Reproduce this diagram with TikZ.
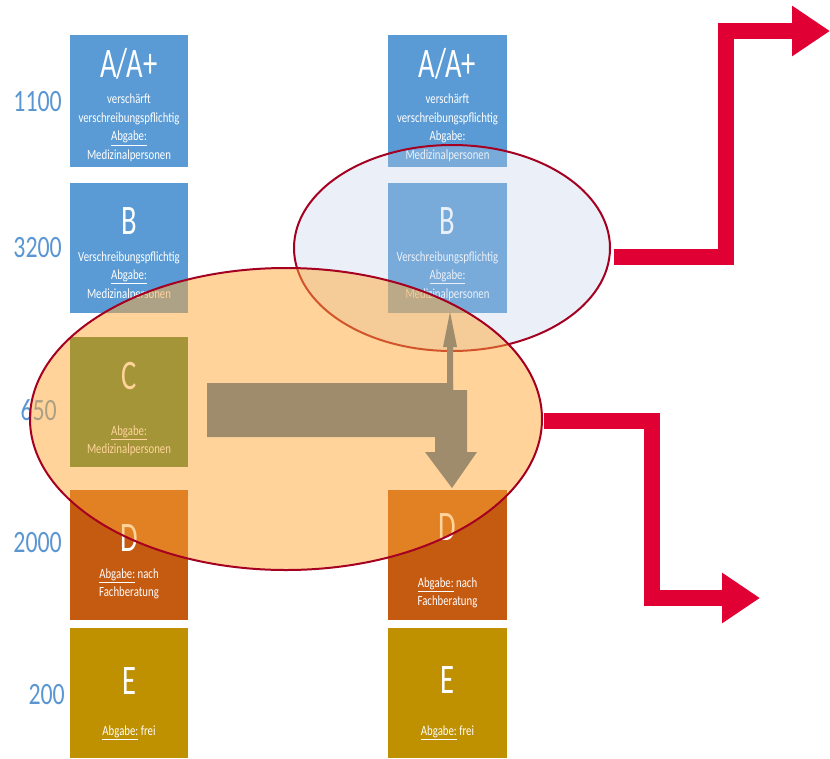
\documentclass[tikz,border=0pt]{standalone}
\usepackage{graphicx}
\usepackage{fontspec}
\setmainfont{Carlito}
\usetikzlibrary{shapes.geometric,arrows.meta,calc}
\definecolor{boxblue}{RGB}{91,155,213}
\definecolor{boxgreen}{RGB}{75,130,60}
\definecolor{boxorange}{RGB}{197,90,17}
\definecolor{boxgold}{RGB}{191,144,0}
\definecolor{numblue}{RGB}{90,150,210}
\definecolor{ellred}{RGB}{165,0,33}
\definecolor{ellblue}{RGB}{190,208,232}
\definecolor{ellorange}{RGB}{255,169,55}
\definecolor{arrowgray}{RGB}{158,140,108}
\definecolor{arrowred}{RGB}{224,0,52}
\newcommand{\sqz}[1]{\scalebox{0.77}[1]{#1}}
\newcommand{\bigsq}[1]{\scalebox{0.68}[1]{#1}}
\begin{document}
\begin{tikzpicture}[x=1pt,y=-1pt,
  box/.style={minimum width=118pt, minimum height=130pt, inner sep=0pt, draw=none},
  bigl/.style={text=white, font=\fontsize{42}{42}\selectfont, inner sep=0pt},
  small/.style={text=white, font=\fontsize{14}{18.5}\selectfont, align=center, inner sep=0pt},
  num/.style={text=numblue, font=\fontsize{31}{31}\selectfont, anchor=east, inner sep=0pt},
  ell/.style={ellipse, draw=ellred, line width=2pt, inner sep=0pt},
  redarrow/.style={draw=arrowred, line width=16pt, line join=miter, -{Triangle[length=38pt,width=48pt]}}]
\useasboundingbox (0,0) rectangle (830,758);
\fill[white] (0,0) rectangle (830,758);

% numbers
\node[num] (n1) at (62,102) {\sqz{1100}};
\node[num] (n2) at (62,248) {\sqz{3200}};
\node[num] (n3) at (57,410) {\sqz{650}};
\node[num] (n4) at (62,543) {\sqz{2000}};
\node[num] (n5) at (65,695) {\sqz{200}};

% left column
\node[box, fill=boxblue, minimum height=132pt] (aL) at (129,101) {};
\node[box, fill=boxblue] (bL) at (129,248) {};
\node[box, fill=boxgreen] (cL) at (129,402) {};
\node[box, fill=boxorange] (dL) at (129,555) {};
\node[box, fill=boxgold] (eL) at (129,693) {};
% right column
\node[box, fill=boxblue, minimum width=119pt, minimum height=132pt] (aR) at (447.5,101) {};
\node[box, fill=boxblue, minimum width=119pt] (bR) at (447.5,248) {};
\node[box, fill=boxorange, minimum width=119pt] (dR) at (447.5,555) {};
\node[box, fill=boxgold, minimum width=119pt] (eR) at (447.5,693) {};

% texts left
\node[bigl] (aLt) at (129,64) {\bigsq{A/A+}};
\node[small] (aLs) at (129,128) {\sqz{verschärft}\\\sqz{verschreibungspflichtig}\\\sqz{\underline{Abgabe:}}\\\sqz{Medizinalpersonen}};
\node[bigl] (bLt) at (129,221) {\bigsq{B}};
\node[small] (bLs) at (129,276) {\sqz{Verschreibungspflichtig}\\\sqz{\underline{Abgabe:}}\\\sqz{Medizinalpersonen}};
\node[bigl] (cLt) at (129,376) {\bigsq{C}};
\node[small] (cLs) at (129,441) {\sqz{\underline{Abgabe:}}\\\sqz{Medizinalpersonen}};
\node[bigl] (dLt) at (129,538) {\bigsq{D}};
\node[small] (dLs) at (129,584) {\sqz{\underline{Abgabe:} nach}\\\sqz{Fachberatung}};
\node[bigl] (eLt) at (129,681) {\bigsq{E}};
\node[small] (eLs) at (129,733) {\sqz{\underline{Abgabe:} frei}};
% texts right
\node[bigl] (aRt) at (447.5,64) {\bigsq{A/A+}};
\node[small] (aRs) at (447.5,128) {\sqz{verschärft}\\\sqz{verschreibungspflichtig}\\\sqz{\underline{Abgabe:}}\\\sqz{Medizinalpersonen}};
\node[bigl] (bRt) at (447.5,221) {\bigsq{B}};
\node[small] (bRs) at (447.5,276) {\sqz{Verschreibungspflichtig}\\\sqz{\underline{Abgabe:}}\\\sqz{Medizinalpersonen}};
\node[bigl] (dRt) at (447.5,527) {\bigsq{D}};
\node[small] (dRs) at (447.5,593) {\sqz{\underline{Abgabe:} nach}\\\sqz{Fachberatung}};
\node[bigl] (eRt) at (447.5,680) {\bigsq{E}};
\node[small] (eRs) at (447.5,733) {\sqz{\underline{Abgabe:} frei}};

% ellipses
\node[ell, fill=ellblue, fill opacity=0.3, minimum width=316pt, minimum height=206pt] (blueEll) at (452,248) {};
\node[ell, fill=ellorange, fill opacity=0.5, minimum width=512pt, minimum height=302pt] (orangeEll) at (286,419) {};

% gray block arrows
\fill[arrowgray] (207,383) -- (453,383) -- (453,390) -- (467,390) -- (467,452) -- (477,452)
  -- (452,488) -- (425,452) -- (435,452) -- (435,437) -- (207,437) -- cycle;
\fill[arrowgray] (447,390) -- (447,347) -- (443,347) -- (450,312) -- (457,347) -- (453,347) -- (453,390) -- cycle;

% red arrows
\coordinate (r1a) at (726,257);
\coordinate (r1b) at (726,31);
\coordinate (r1e) at (830,31);
\draw[redarrow] ([xshift=3pt,yshift=-9pt]blueEll.east) -- (r1a) -- (r1b) -- (r1e);
\coordinate (r2a) at (652,421);
\coordinate (r2b) at (652,598);
\coordinate (r2e) at (760,598);
\draw[redarrow] ([xshift=1pt,yshift=-2pt]orangeEll.east) -- (r2a) -- (r2b) -- (r2e);
\end{tikzpicture}
\end{document}
